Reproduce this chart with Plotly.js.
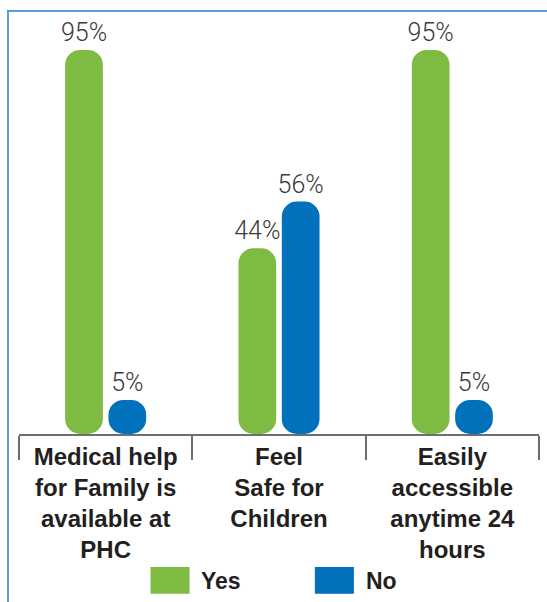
<!DOCTYPE html>
<html>
<head>
<meta charset="utf-8">
<script src="https://cdn.plot.ly/plotly-3.0.1.min.js"></script>
<style>
  html, body { margin: 0; padding: 0; background: #fff; overflow: hidden; }
  #wrap { position: relative; width: 547px; height: 602px; }
  #chart { position: absolute; left: 0; top: 0; width: 547px; height: 602px; }
  #frame {
    position: absolute; left: 7px; top: 10px; width: 700px; height: 800px;
    border-left: 2px solid #5A9BDB; border-top: 2px solid #5A9BDB;
    pointer-events: none;
  }
</style>
</head>
<body>
<div id="wrap">
  <div id="chart"></div>
  <div id="frame"></div>
</div>
<script>
// Survey responses about the primary health centre (PHC), in percent
const categories = [
  "Medical help<br>for Family is<br>available at<br>PHC",
  "Feel<br>Safe for<br>Children",
  "Easily<br>accessible<br>anytime 24<br>hours"
];
const yesValues = [95, 44, 95];
const noValues = [5, 56, 5];
const seriesNames = ["Yes", "No"];
const seriesColors = ["#7DBB42", "#0071BA"];

// bars rise from slightly below zero so the short ones sit on the axis line
const floorValue = -3.75;

const labelFont = { family: "Roboto, Liberation Sans, Arial, sans-serif", size: 25, color: "#3A3A3A", weight: 300 };

function barTrace(name, values, color) {
  return {
    type: "bar",
    name: name,
    x: categories,
    y: values.map(v => v - floorValue),
    base: floorValue,
    text: values.map(v => v + "%"),
    textposition: "outside",
    textfont: labelFont,
    constraintext: "none",
    cliponaxis: false,
    hoverinfo: "skip",
    marker: { color: color, cornerradius: 15, line: { width: 0 } }
  };
}

const data = [
  barTrace(seriesNames[0], yesValues, seriesColors[0]),
  barTrace(seriesNames[1], noValues, seriesColors[1])
];

// legend drawn as wide swatches with bold captions under the axis
const legendShapes = [];
const legendNotes = [];
const legendX = [0.253, 0.569];
seriesNames.forEach((name, i) => {
  legendShapes.push({
    type: "rect", xref: "paper", yref: "paper",
    x0: legendX[i], x1: legendX[i] + 0.075,
    y0: -0.386, y1: -0.321,
    fillcolor: seriesColors[i], line: { width: 0 }
  });
  legendNotes.push({
    xref: "paper", yref: "paper",
    x: legendX[i] + 0.094, y: -0.354,
    xanchor: "left", yanchor: "middle",
    text: "<b>" + name + "</b>", showarrow: false,
    font: { family: "Liberation Sans, Arial, sans-serif", size: 23, color: "#231F20" }
  });
});

const layout = {
  width: 547,
  height: 602,
  margin: { l: 19, r: 8, t: 20, b: 168 },
  paper_bgcolor: "#ffffff",
  plot_bgcolor: "#ffffff",
  showlegend: false,
  barmode: "group",
  bargap: 0.5,
  bargroupgap: 0.13,
  xaxis: {
    type: "category",
    range: [-0.5, 2.5],
    tickson: "boundaries",
    ticks: "outside",
    ticklen: 24,
    tickwidth: 2,
    tickcolor: "#6D6E71",
    showline: true,
    linecolor: "#6D6E71",
    linewidth: 2,
    showgrid: false,
    zeroline: false,
    ticklabelstandoff: 0,
    tickfont: { family: "Liberation Sans, Arial, sans-serif", size: 24, color: "#231F20", weight: "bold" },
    fixedrange: true
  },
  yaxis: {
    range: [floorValue, 102.7],
    visible: false,
    showgrid: false,
    zeroline: false,
    fixedrange: true
  },
  shapes: legendShapes,
  annotations: legendNotes
};

Plotly.newPlot("chart", data, layout, { displayModeBar: false, staticPlot: true });
</script>
</body>
</html>
